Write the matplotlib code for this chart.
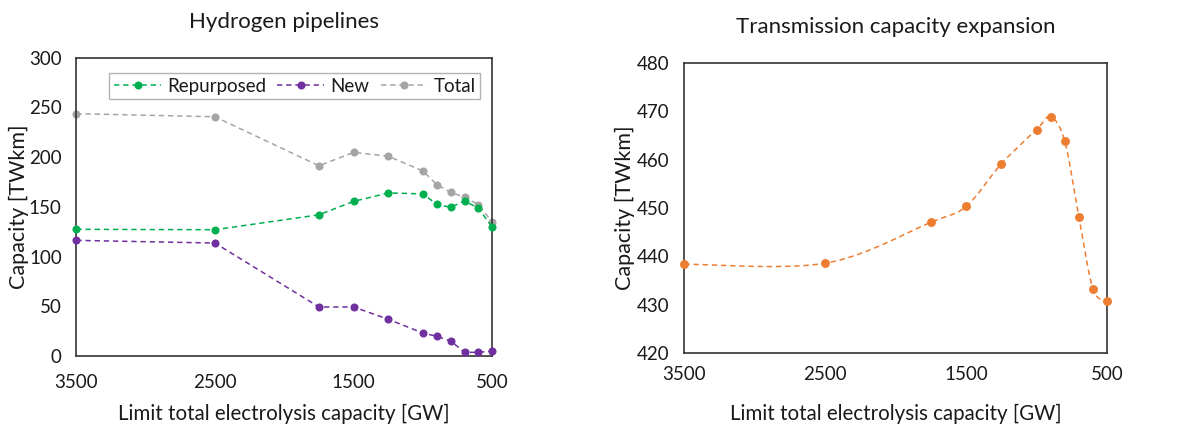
import numpy as np
import matplotlib
matplotlib.use("Agg")
import matplotlib.pyplot as plt

plt.rcParams['font.family'] = ['Lato', 'DejaVu Sans']

limits = [3500, 2500, 1750, 1500, 1250, 1000, 900, 800, 700, 600, 500]
repurposed = [127.4, 127.0, 142.0, 155.5, 164.0, 163.0, 152.5, 149.5, 156.0, 148.5, 129.7]
new = [116.3, 113.6, 49.3, 49.3, 36.9, 23.1, 19.8, 15.1, 3.7, 3.7, 5.0]
total = [243.7, 240.6, 191.3, 204.8, 200.9, 186.1, 172.3, 164.6, 159.7, 152.2, 134.7]
transmission = [438.4, 438.6, 447.05, 450.35, 459.1, 466.2, 468.8, 463.8, 448.2, 433.35, 430.7]
xticks = [3500, 2500, 1500, 500]

C_GREEN = '#00B050'
C_PURPLE = '#7030A0'
C_GRAY = '#A5A5A5'
C_ORANGE = '#ED7D31'
FRAME = '#333333'
TXT = '#1a1a1a'

W, H = 1193, 424
fig = plt.figure(figsize=(W / 100, H / 100), dpi=100)

def box(l, r, t, b):
    return [l / W, 1 - b / H, (r - l) / W, (b - t) / H]

L1 = (76.3, 492.3, 57.7, 356.0)
L2 = (684.3, 1107.0, 62.7, 353.3)
ax1 = fig.add_axes(box(*L1))
ax2 = fig.add_axes(box(*L2))

for ax, lay, xpad in ((ax1, L1, 13), (ax2, L2, 9.5)):
    l, r, t, b = lay
    ax.set_xlim(3500, 500)
    ax.set_xticks(xticks)
    ax.set_xticklabels([str(v) for v in xticks])
    ax.tick_params(length=0, labelsize=13.5, colors=TXT)
    ax.tick_params(axis='x', pad=xpad)
    ax.tick_params(axis='y', pad=10.5)
    for s in ax.spines.values():
        s.set_color(FRAME)
        s.set_linewidth(1.2)
    ax.set_xlabel('Limit total electrolysis capacity [GW]', fontsize=14.8, color=TXT, va='center')
    ax.set_ylabel('Capacity [TWkm]', fontsize=15.5, color=TXT, va='center')
    ax.xaxis.set_label_coords(0.5, (b - 413.5) / (b - t))
    xc = 18.5 if ax is ax1 else 625.0
    ax.yaxis.set_label_coords((xc - l) / (r - l), 0.5)

# Left panel
kw = dict(linestyle=(0, (3.5, 2.5)), linewidth=1.1, marker='o', markersize=4.8, clip_on=False)
ax1.plot(limits, repurposed, color=C_GREEN, label='Repurposed', zorder=3, **kw)
ax1.plot(limits, new, color=C_PURPLE, label='New', zorder=3, **kw)
ax1.plot(limits, total, color=C_GRAY, label='Total', zorder=2, **kw)
ax1.set_ylim(0, 300)
ax1.set_yticks(range(0, 301, 50))
ax1.set_title('Hydrogen pipelines', fontsize=16, color=TXT, pad=21.5)
leg = ax1.legend(ncol=3, loc='upper right', bbox_to_anchor=(0.971, 0.949), borderaxespad=0,
                 fontsize=13.5, frameon=True, fancybox=False, edgecolor='#A0A0A0',
                 handlelength=2.5, columnspacing=0.6, handletextpad=0.32, borderpad=0.25)
leg.get_frame().set_linewidth(1.0)
for t in leg.get_texts():
    t.set_color(TXT)

# Right panel: smoothed curve (Excel-style Catmull-Rom in screen space)
ax2.set_ylim(420, 480)
ax2.set_yticks(range(420, 481, 10))
ax2.set_title('Transmission capacity expansion', fontsize=16, color=TXT, pad=21.5)
fig.canvas.draw()
pts = ax2.transData.transform(np.column_stack([limits, transmission]))
P = np.vstack([pts[0], pts, pts[-1]])
curve = []
for i in range(1, len(P) - 2):
    p0, p1, p2, p3 = P[i - 1], P[i], P[i + 1], P[i + 2]
    c1 = p1 + (p2 - p0) / 6.0
    c2 = p2 - (p3 - p1) / 6.0
    t = np.linspace(0, 1, 40)[:, None]
    seg = ((1 - t) ** 3) * p1 + 3 * ((1 - t) ** 2) * t * c1 + 3 * (1 - t) * t ** 2 * c2 + t ** 3 * p2
    curve.append(seg if i == 1 else seg[1:])
curve = np.vstack(curve)
cd = ax2.transData.inverted().transform(curve)
ax2.plot(cd[:, 0], cd[:, 1], color=C_ORANGE, linestyle=(0, (3.5, 2.5)), linewidth=1.1, zorder=2)
ax2.plot(limits, transmission, linestyle='none', marker='o', markersize=5.4, color=C_ORANGE,
         zorder=3, clip_on=False)
for ax in (ax1, ax2):
    for lbl in ax.get_yticklabels():
        lbl.set_color(TXT)

fig.savefig('out.png', dpi=100)
